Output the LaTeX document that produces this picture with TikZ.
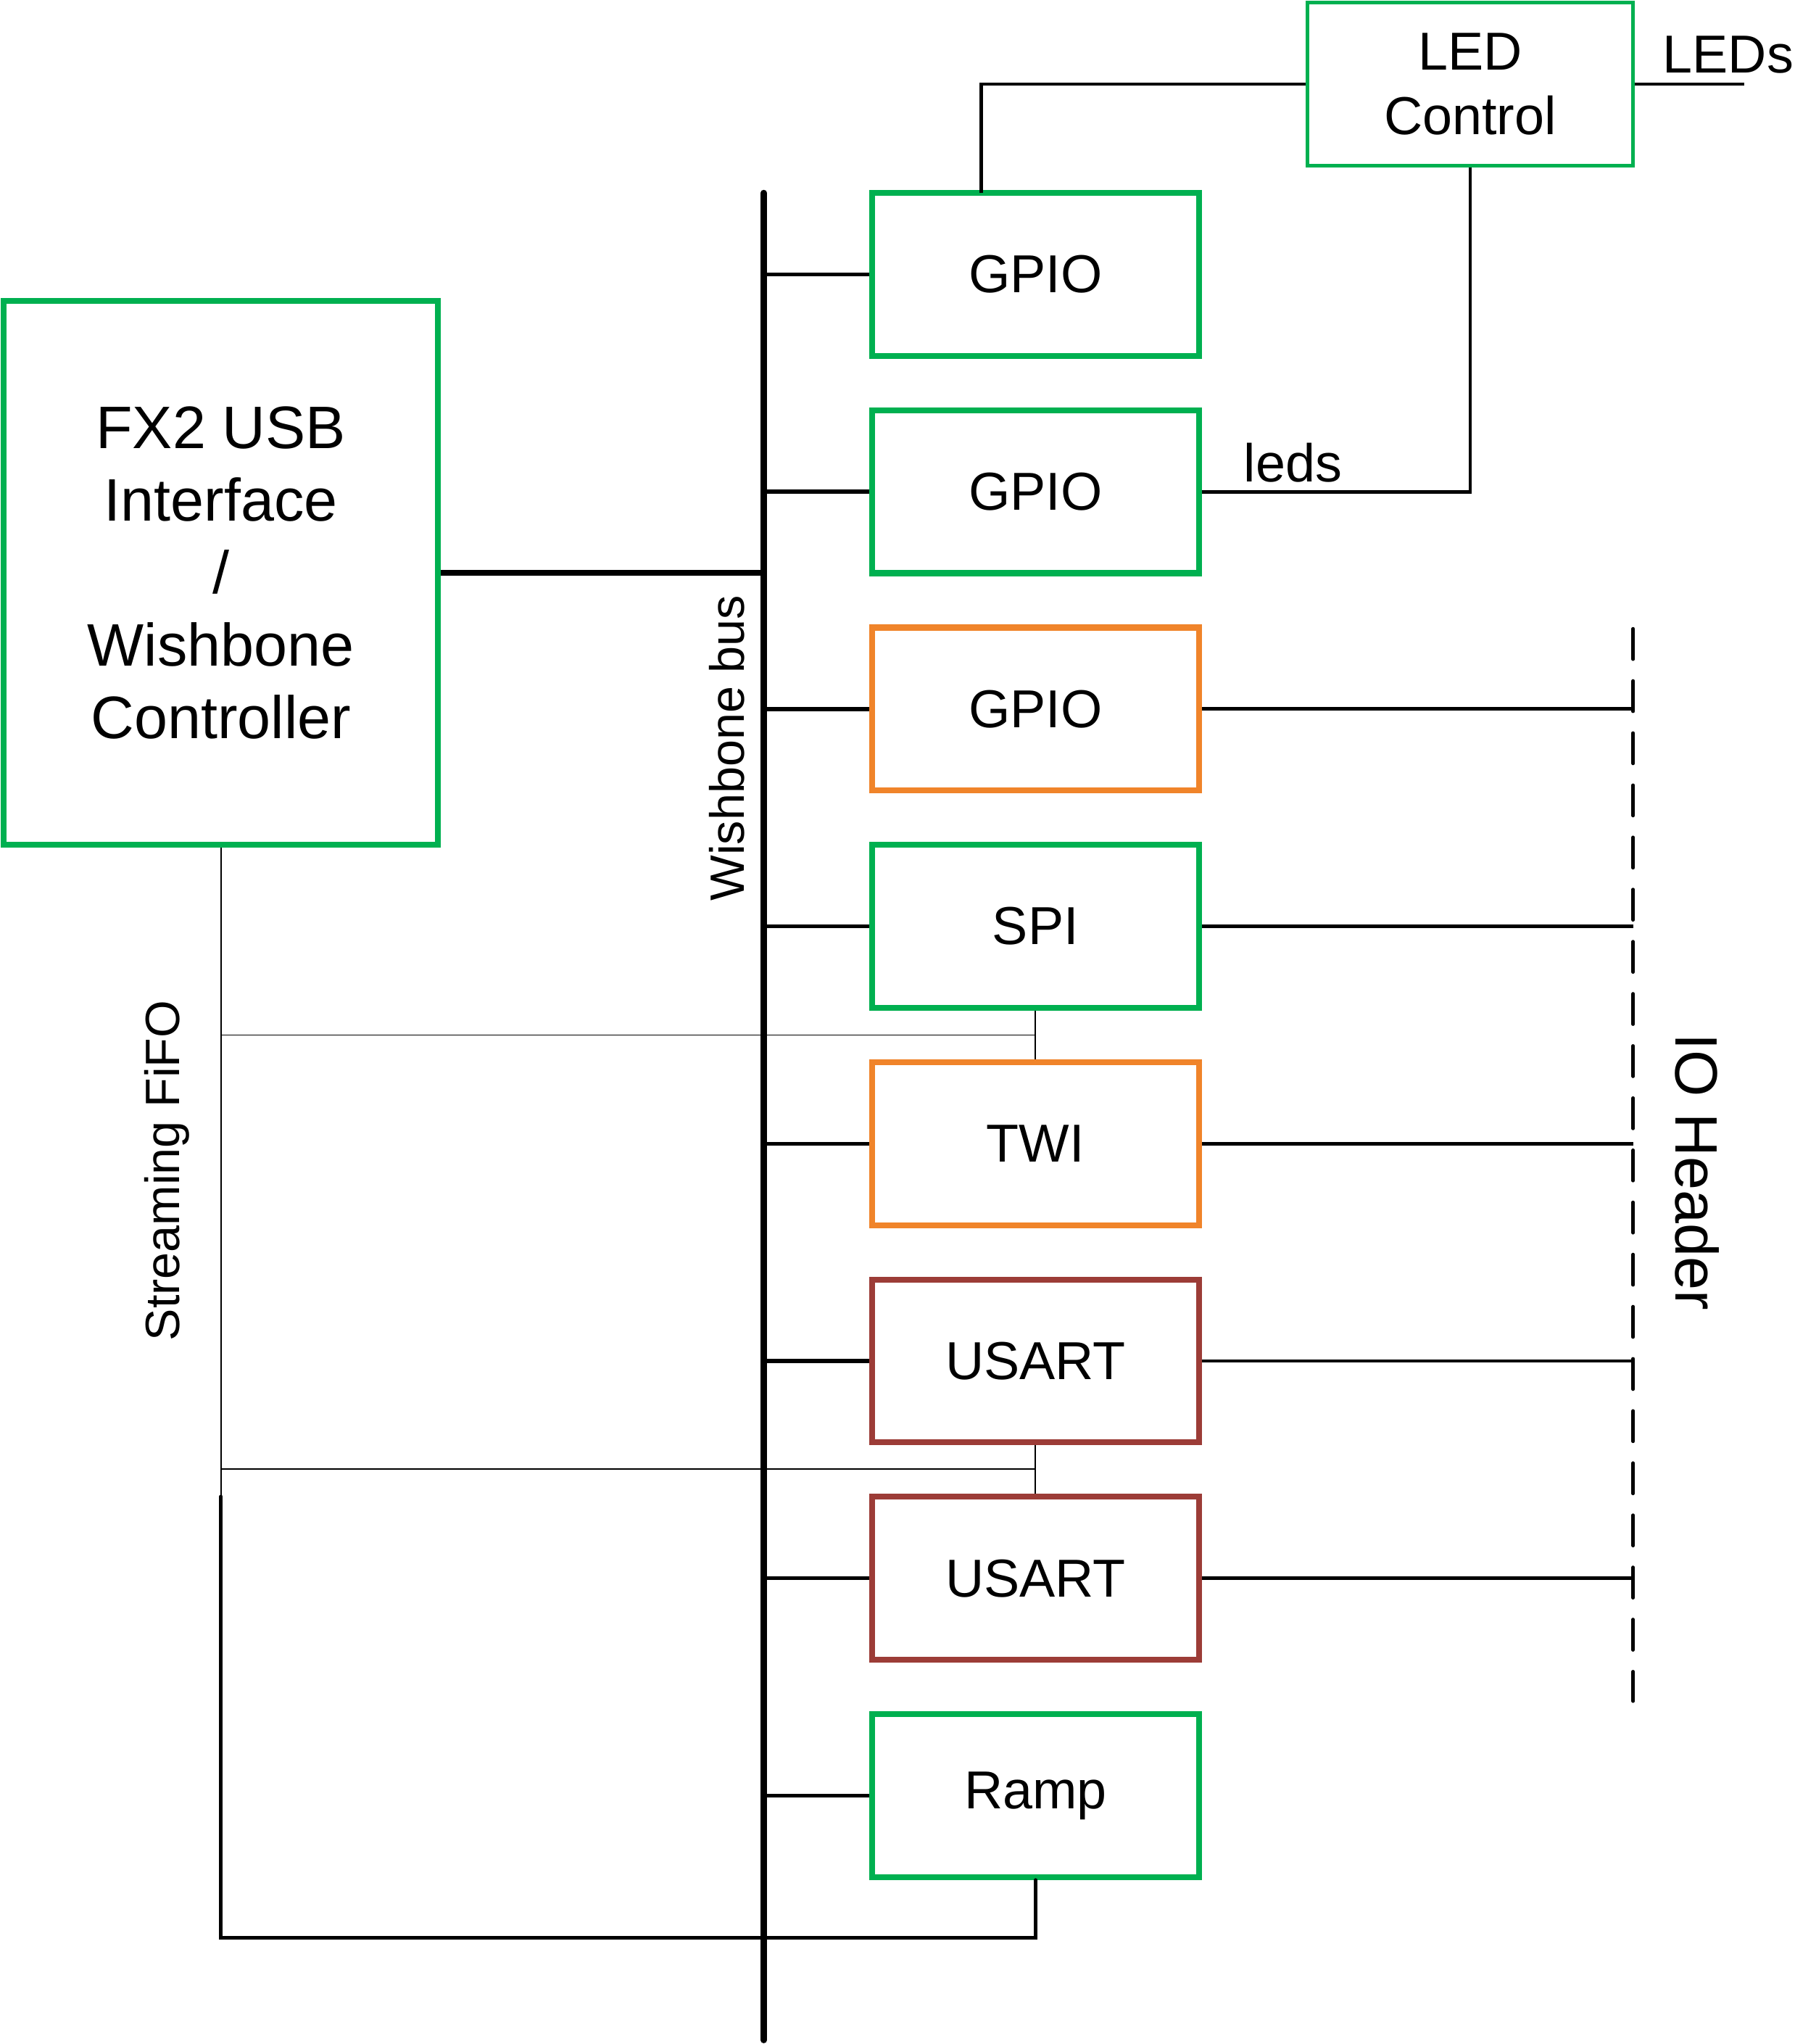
\documentclass[tikz,border=0pt]{standalone}
\usepackage{fontspec}
\setmainfont{Liberation Sans}
\usetikzlibrary{arrows.meta,calc}
\definecolor{bgreen}{HTML}{00B050}
\definecolor{borange}{HTML}{F0842A}
\definecolor{bbrown}{HTML}{9C3C37}
\tikzset{
  blk/.style={draw=#1, line width=4.5pt, minimum width=251pt, minimum height=125pt, inner sep=0pt, font=\fontsize{41}{49}\selectfont},
  busline/.style={line width=4.8pt, line cap=round},
  stub/.style={line width=3pt},
  wire/.style={line width=2.7pt},
  thinw/.style={line width=1pt},
  lbl/.style={inner sep=0pt, font=\fontsize{41}{49}\selectfont},
  rlbl/.style={inner sep=0pt, font=\fontsize{37}{44}\selectfont},
}
\begin{document}
\begin{tikzpicture}[x=1pt,y=-1pt]
\useasboundingbox (0,0) rectangle (1377,1568);
% bus
\coordinate (busT) at (586,148);
\coordinate (busB) at (586,1565);
\draw[busline] (busT) -- (busB);
% FX2
\node[draw=bgreen, line width=4.5pt, minimum width=333pt, minimum height=417pt, inner sep=0pt, align=center, font=\fontsize{46}{55.7}\selectfont] (fx2) at (169.5,439.5) {FX2 USB\\Interface\\/\\Wishbone\\Controller};
\draw[line width=4.2pt] (fx2.east) -- (fx2.east -| busT);
% LED control
\node[draw=bgreen, line width=2.6pt, minimum width=250pt, minimum height=125pt, inner sep=0pt, align=center, font=\fontsize{41}{50}\selectfont] (led) at (1128,64.5) {LED\\Control};
% peripheral blocks
\node[blk=bgreen] (g1) at (794.5,210.5) {GPIO};
\node[blk=bgreen] (g2) at (794.5,377.2) {GPIO};
\node[blk=borange] (g3) at (794.5,543.9) {GPIO};
\node[blk=bgreen] (spi) at (794.5,710.6) {SPI};
\node[blk=borange] (twi) at (794.5,877.3) {TWI};
\node[blk=bbrown] (us1) at (794.5,1044) {USART};
\node[blk=bbrown] (us2) at (794.5,1210.7) {USART};
\node[blk=bgreen] (ramp) at (794.5,1377.4) {Ramp};
% stubs to bus
\foreach \n in {g1,g2,g3,spi,twi,us1,us2,ramp}{
  \draw[stub] (\n.west -| busT) -- (\n.west);
}
% GPIO1 to LED control
\coordinate (g1t) at (753,148);
\draw[wire] (led.west) -| (g1t);
% LED control to GPIO2
\draw[wire] (led.south) |- (g2.east);
\node[lbl] (ledsl) at (992,355) {leds};
% LEDs out
\coordinate (ledsend) at (1338,64.5);
\draw[wire] (led.east) -- (ledsend);
\node[lbl] (ledsout) at (1326,42) {LEDs};
% IO header
\coordinate (ioT) at (1253,482.3);
\coordinate (ioB) at (1253,1305);
\draw[line width=2.6pt, line cap=round, dash pattern=on 23.4pt off 16.6pt] (ioT) -- (ioB);
\foreach \n in {g3,spi,twi,us1,us2}{
  \draw[wire] (\n.east) -- (\n.east -| ioT);
}
\node[inner sep=0pt, rotate=-90, font=\fontsize{46}{55}\selectfont] (iohdr) at (1302,899) {IO Header};
% labels
\node[rlbl, rotate=90] (wbl) at (558,574) {Wishbone bus};
\node[rlbl, rotate=90] (sfl) at (128,898) {Streaming FiFO};
% streaming fifo thin lines
\coordinate (sfa) at (169.5,794);
\coordinate (sfb) at (169.5,1127);
\coordinate (sfc) at (169.5,1148);
\draw[thinw] (fx2.south) -- (sfc);
\draw[thinw] (sfa) -- (sfa -| spi.south);
\draw[thinw] (spi.south) -- (twi.north);
\draw[thinw] (sfb) -- (sfb -| us1.south);
\draw[thinw] (us1.south) -- (us2.north);
% ramp thick return
\coordinate (rb) at (169.5,1486.5);
\draw[wire, line cap=round] (sfc) -- (rb) -| (ramp.south);
\end{tikzpicture}
\end{document}
